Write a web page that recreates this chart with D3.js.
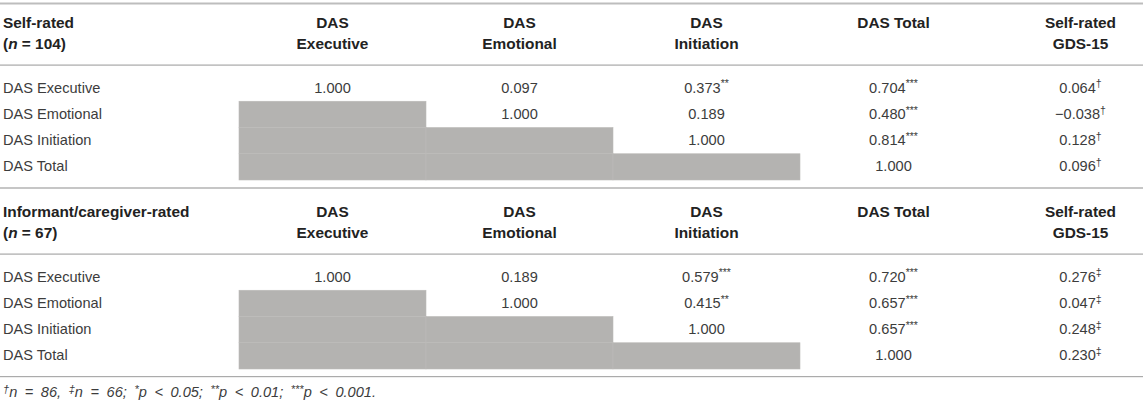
<!DOCTYPE html>
<html>
<head>
<meta charset="utf-8">
<script src="https://cdn.jsdelivr.net/npm/d3@7"></script>
<style>
  body { margin: 0; background: #fff; }
  svg text { font-family: "Liberation Sans", Arial, sans-serif; }
</style>
</head>
<body>
<svg id="chart" width="1143" height="407"></svg>
<script>
var rowNames = ["DAS Executive", "DAS Emotional", "DAS Initiation", "DAS Total"];
var colHeaders = [["DAS", "Executive"], ["DAS", "Emotional"], ["DAS", "Initiation"], ["DAS Total"], ["Self-rated", "GDS-15"]];

// self-rated correlations (null = shaded lower triangle)
var selfValues = [
    [1.000, 0.097, 0.373, 0.704, 0.064],
    [null, 1.000, 0.189, 0.480, -0.038],
    [null, null, 1.000, 0.814, 0.128],
    [null, null, null, 1.000, 0.096]
];
var selfMarks = [
    ["", "", "**", "***", "†"],
    ["", "", "", "***", "†"],
    ["", "", "", "***", "†"],
    ["", "", "", "", "†"]
];

// informant/caregiver-rated correlations
var informantValues = [
    [1.000, 0.189, 0.579, 0.720, 0.276],
    [null, 1.000, 0.415, 0.657, 0.047],
    [null, null, 1.000, 0.657, 0.248],
    [null, null, null, 1.000, 0.230]
];
var informantMarks = [
    ["", "", "***", "***", "‡"],
    ["", "", "**", "***", "‡"],
    ["", "", "", "***", "‡"],
    ["", "", "", "", "‡"]
];

var sections = [
    {title: "Self-rated", n: "104", values: selfValues, marks: selfMarks},
    {title: "Informant/caregiver-rated", n: "67", values: informantValues, marks: informantMarks}
];

var FMT = d3.format(".3f");
var FONT = 14.6;

var xScale = d3.scaleBand()
    .domain(d3.range(colHeaders.length))
    .range([239, 239 + 187 * colHeaders.length]);

var yScale = d3.scaleBand()
    .domain(rowNames)
    .range([75, 180]);

var sectionOffset = 189;

var svg = d3.select("#chart");

// top rule
svg.append("rect")
    .attr("x", 0).attr("y", 2.5).attr("width", 1143).attr("height", 2)
    .attr("fill", "#bdbdbd");

sections.forEach(function(sec, si) {
    var g = svg.append("g")
        .attr("transform", "translate(0," + (si * sectionOffset) + ")");

    // shaded lower triangle
    var cells = [];
    sec.values.forEach(function(row, r) {
        row.forEach(function(v, c) {
            cells.push({r: r, c: c, v: v, mark: sec.marks[r][c]});
        });
    });

    g.selectAll(".shade")
        .data(cells.filter(function(d) { return d.v === null; }))
        .enter()
        .append("rect")
        .attr("class", "shade")
        .attr("x", function(d) { return xScale(d.c); })
        .attr("y", function(d) { return yScale(rowNames[d.r]); })
        .attr("width", xScale.bandwidth())
        .attr("height", yScale.bandwidth())
        .attr("fill", "#b4b3b1")
        .attr("stroke", "#bcbbb9")
        .attr("stroke-width", 0.6);

    // section title
    g.append("text")
        .attr("x", 3).attr("y", 28)
        .attr("font-size", 15.4).attr("font-weight", "bold").attr("fill", "#222")
        .text(sec.title);
    var nText = g.append("text")
        .attr("x", 3).attr("y", 49)
        .attr("font-size", 15.4).attr("font-weight", "bold").attr("fill", "#222");
    nText.append("tspan").text("(");
    nText.append("tspan").attr("font-style", "italic").text("n");
    nText.append("tspan").text(" = " + sec.n + ")");

    // column headers
    g.selectAll(".colHead")
        .data(colHeaders)
        .enter()
        .append("text")
        .attr("class", "colHead")
        .attr("x", function(d, i) { return xScale(i) + xScale.bandwidth() / 2; })
        .attr("y", 28)
        .attr("text-anchor", "middle")
        .attr("font-size", 15.4).attr("font-weight", "bold").attr("fill", "#222")
        .each(function(d) {
            var t = d3.select(this);
            d.forEach(function(line, li) {
                t.append("tspan")
                    .attr("x", t.attr("x"))
                    .attr("dy", li === 0 ? 0 : 21)
                    .text(line);
            });
        });

    // header rule
    g.append("rect")
        .attr("x", 0).attr("y", 64.5).attr("width", 1143).attr("height", 1.2)
        .attr("fill", "#a8a8a8");

    // row labels
    g.selectAll(".rowLabel")
        .data(rowNames)
        .enter()
        .append("text")
        .attr("class", "rowLabel")
        .attr("x", 3)
        .attr("y", function(d) { return yScale(d) + yScale.bandwidth() / 2; })
        .attr("dy", "0.3em")
        .attr("font-size", FONT).attr("fill", "#3c3c3c")
        .text(function(d) { return d; });

    // values
    var valueText = g.selectAll(".value")
        .data(cells.filter(function(d) { return d.v !== null; }))
        .enter()
        .append("text")
        .attr("class", "value")
        .attr("x", function(d) { return xScale(d.c) + xScale.bandwidth() / 2; })
        .attr("y", function(d) { return yScale(rowNames[d.r]) + yScale.bandwidth() / 2; })
        .attr("dy", "0.3em")
        .attr("text-anchor", "middle")
        .attr("font-size", FONT).attr("fill", "#3c3c3c");
    valueText.append("tspan").text(function(d) { return FMT(d.v); });
    valueText.append("tspan")
        .attr("font-size", 10.5)
        .attr("dy", "-0.5em")
        .text(function(d) { return d.mark; });

    // bottom rule
    g.append("rect")
        .attr("x", 0).attr("y", si === 0 ? 187 : 376).attr("width", 1143).attr("height", si === 0 ? 2 : 1.2)
        .attr("fill", si === 0 ? "#c6c6c6" : "#ababab")
        .attr("transform", "translate(0," + (-si * sectionOffset) + ")");
});

// footnote
var foot = svg.append("text")
    .attr("x", 3).attr("y", 397)
    .attr("font-size", 14.6).attr("font-style", "italic").attr("fill", "#3c3c3c")
    .attr("word-spacing", 3.5);
var footParts = [
    ["†", true], ["n = 86, ", false], ["‡", true], ["n = 66; ", false],
    ["*", true], ["p < 0.05; ", false], ["**", true], ["p < 0.01; ", false],
    ["***", true], ["p < 0.001.", false]
];
footParts.forEach(function(p) {
    var ts = foot.append("tspan").text(p[0]);
    if (p[1]) ts.attr("font-size", 11).attr("baseline-shift", "33%");
});
</script>
</body>
</html>
